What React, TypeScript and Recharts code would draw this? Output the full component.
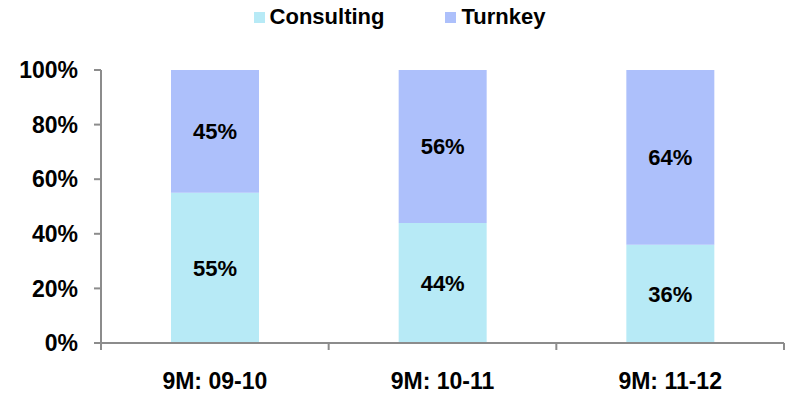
import { Bar, BarChart, LabelList, Legend, XAxis, YAxis } from "recharts";

const categories = ["9M: 09-10", "9M: 10-11", "9M: 11-12"];
const consulting = [55, 44, 36];
const turnkey = [45, 56, 64];
const yTicks = [0, 20, 40, 60, 80, 100];

const seriesNames = ["Consulting", "Turnkey"];
const seriesColors = ["#B7EAF6", "#ADC0FB"];

const data = categories.map((name, i) => ({
  name,
  consulting: consulting[i],
  turnkey: turnkey[i],
}));

const width = 791;
const height = 394;
const yAxisWidth = 101;
const marginRight = 7;
const font = "'Liberation Sans', Arial, sans-serif";
const axisColor = "#8C8C8C";
const halfBand = (width - yAxisWidth - marginRight) / categories.length / 2;

function LegendContent() {
  return (
    <div
      style={{
        width,
        height: 34,
        display: "flex",
        justifyContent: "center",
        alignItems: "center",
        gap: 61,
        paddingLeft: 8,
        boxSizing: "border-box",
        fontFamily: font,
        fontWeight: 700,
        fontSize: 22,
        color: "#000",
      }}
    >
      {seriesNames.map((name, i) => (
        <div key={name} style={{ display: "flex", alignItems: "center" }}>
          <span
            style={{
              width: 11,
              height: 11,
              background: seriesColors[i],
              marginRight: 5,
              display: "inline-block",
            }}
          />
          <span>{name}</span>
        </div>
      ))}
    </div>
  );
}

function XTick(props: any) {
  const { x, y, payload, index } = props;
  const last = index === categories.length - 1;
  return (
    <g>
      <line x1={x - halfBand} x2={x - halfBand} y1={y} y2={y + 7} stroke={axisColor} strokeWidth={2} />
      {last && (
        <line x1={x + halfBand} x2={x + halfBand} y1={y} y2={y + 7} stroke={axisColor} strokeWidth={2} />
      )}
      <text
        x={x}
        y={y + 30}
        dy="0.71em"
        textAnchor="middle"
        fontFamily={font}
        fontWeight={700}
        fontSize={23}
        fill="#000"
      >
        {payload.value}
      </text>
    </g>
  );
}

export default function App() {
  return (
    <div style={{ position: "absolute", left: 0, top: 0, background: "#fff" }}>
      <BarChart
        width={width}
        height={height}
        data={data}
        margin={{ top: 36, right: marginRight, bottom: 0, left: 0 }}
        barCategoryGap={70}
      >
        <Legend
          verticalAlign="top"
          content={<LegendContent />}
          wrapperStyle={{ left: 0, top: 0, width }}
        />
        <XAxis
          dataKey="name"
          height={51}
          tickLine={false}
          tickSize={0}
          tickMargin={0}
          tick={<XTick />}
          axisLine={{ stroke: axisColor, strokeWidth: 2 }}
        />
        <YAxis
          width={yAxisWidth}
          domain={[0, 100]}
          ticks={yTicks}
          tickFormatter={(v) => `${v}%`}
          tickSize={7}
          tickMargin={16}
          axisLine={{ stroke: axisColor, strokeWidth: 2 }}
          tickLine={{ stroke: axisColor, strokeWidth: 2 }}
          tick={{ fontFamily: font, fontWeight: 700, fontSize: 23, fill: "#000" }}
        />
        <Bar dataKey="consulting" stackId="a" fill={seriesColors[0]} isAnimationActive={false}>
          <LabelList
            dataKey="consulting"
            position="center"
            formatter={(v: any) => `${v}%`}
            style={{ fontFamily: font, fontWeight: 700, fontSize: 22, fill: "#000" }}
          />
        </Bar>
        <Bar dataKey="turnkey" stackId="a" fill={seriesColors[1]} isAnimationActive={false}>
          <LabelList
            dataKey="turnkey"
            position="center"
            formatter={(v: any) => `${v}%`}
            style={{ fontFamily: font, fontWeight: 700, fontSize: 22, fill: "#000" }}
          />
        </Bar>
      </BarChart>
    </div>
  );
}
